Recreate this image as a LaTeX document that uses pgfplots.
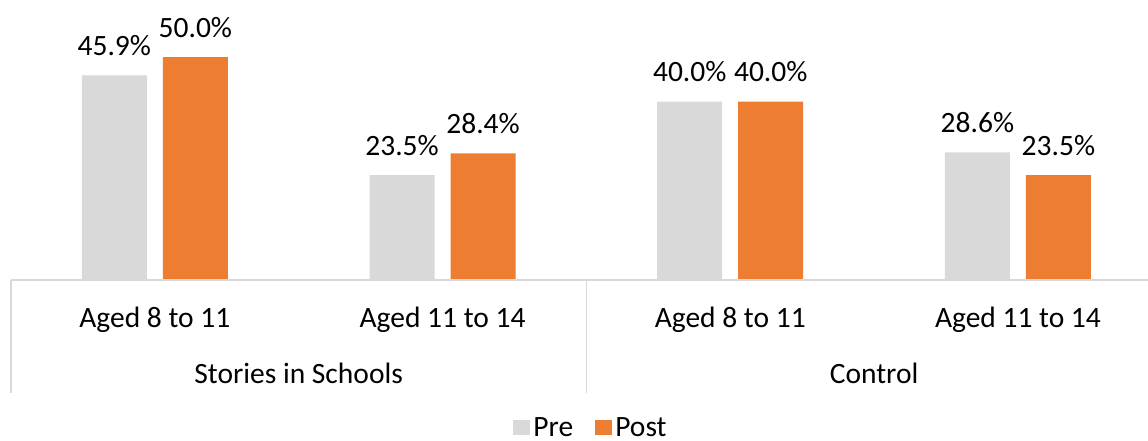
\documentclass[border=0pt]{standalone}
\usepackage{pgfplots}
\pgfplotsset{compat=1.18}
\usepackage{fontspec}
\setmainfont{Carlito}
\definecolor{cpre}{HTML}{D9D9D9}
\definecolor{cpost}{HTML}{ED7D31}
\definecolor{cline}{HTML}{D9D9D9}
\newcommand{\cf}{\fontsize{29.5bp}{34bp}\selectfont}
\begin{document}
\begin{tikzpicture}
\begin{axis}[
  at={(11bp,161bp)}, anchor=south west,
  scale only axis, width=1137bp, height=267.6bp,
  xmin=-0.5, xmax=3.452, ymin=0, ymax=60,
  axis line style={draw=none},
  ybar=16bp, bar width=65bp,
  ytick=\empty,
  xtick={0,1,2,3},
  xticklabels={Aged 8 to 11, Aged 11 to 14, Aged 8 to 11, Aged 11 to 14},
  major tick length=0pt,
  xticklabel style={font=\cf, anchor=base, inner sep=0pt, yshift=-47bp},
  clip=false,
  /pgf/number format/assume math mode=true,
  nodes near coords={\pgfmathprintnumber[fixed,fixed zerofill,precision=1]{\pgfplotspointmeta}\%},
  nodes near coords style={font=\cf, anchor=base, inner sep=0pt, yshift=20bp, text=black},
  legend style={at={(axis description cs:0.5106,-0.553)}, anchor=center, draw=none, fill=none,
    font=\cf, legend columns=2, nodes={inner sep=3bp},
    /tikz/every even column/.append style={column sep=19bp}},
  legend image code/.code={\fill[#1] (0bp,-7.5bp) rectangle (17bp,7.5bp);},
]
\addplot[fill=cpre, draw=none] coordinates {(0,45.9) (1,23.5) (2,40.0) (3,28.6)};
\addlegendentry{Pre}
\addplot[fill=cpost, draw=none] coordinates {(0,50.0) (1,28.4) (2,40.0) (3,23.5)};
\addlegendentry{Post}
\draw[cline, line width=1.5bp] (axis cs:-0.5,0) -- (axis cs:3.452,0);
\draw[cline, line width=1.5bp] (axis cs:-0.5,0) -- ([yshift=-113bp]axis cs:-0.5,0);
\draw[cline, line width=1.5bp] (axis cs:1.5,0) -- ([yshift=-113bp]axis cs:1.5,0);
\node[font=\cf, anchor=base, inner sep=0pt] at ([yshift=-103bp]axis cs:0.5,0) {Stories in Schools};
\node[font=\cf, anchor=base, inner sep=0pt] at ([yshift=-103bp]axis cs:2.5,0) {Control};
\end{axis}
\pgfresetboundingbox
\path[use as bounding box] (0,0) rectangle (1148bp,441bp);
\end{tikzpicture}
\end{document}
